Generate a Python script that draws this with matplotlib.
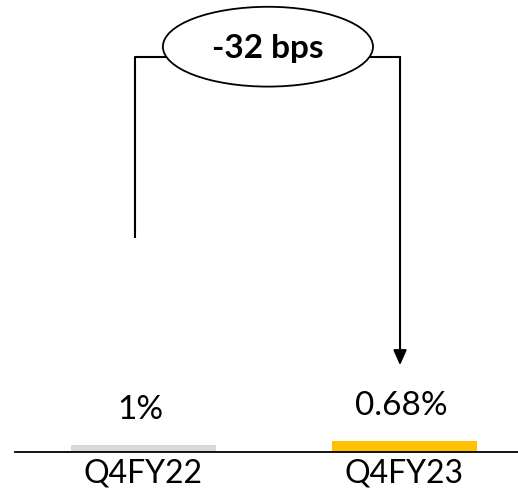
import matplotlib.pyplot as plt
from matplotlib.patches import Ellipse

# categories and values
quarters = ["Q4FY22", "Q4FY23"]
value_labels = ["1%", "0.68%"]
bar_heights = [1.0, 1.55]          # visual bar heights as drawn in the source
bar_colors = ["#d9d9d9", "#ffc000"]
change_label = "-32 bps"

plt.rcParams['font.family'] = ['Lato', 'DejaVu Sans']

fig = plt.figure(figsize=(5.18, 4.90), dpi=100)
# axes: x from 15px to 518px, y from baseline (452px) to the top
ax = fig.add_axes([15 / 518, (490 - 452) / 490, 503 / 518, 452 / 490])

x = list(range(len(quarters)))
ax.bar(x, bar_heights, width=0.556, color=bar_colors)

for xi, h, lab in zip(x, bar_heights, value_labels):
    ax.annotate(lab, (xi, h), xytext=(-2, 19), textcoords='offset points',
                ha='center', va='baseline', fontsize=24)

ax.set_xlim(-0.492, 1.435)
ax.set_ylim(0, 452 / 7)

# bracket with arrow from the first bar to the second
ax.plot([-0.033, -0.033, 0.983], [30.7, 56.4, 56.4], color='black', lw=1.5)
ax.annotate("", xy=(0.983, 12.4), xytext=(0.983, 56.4),
            arrowprops=dict(arrowstyle='-|>,head_length=0.9,head_width=0.4',
                            color='black', lw=1.5, shrinkA=0, shrinkB=0))
ax.add_patch(Ellipse((0.477, 57.9), 0.805, 11.4, facecolor='white',
                     edgecolor='black', lw=1.3, zorder=3))
ax.text(0.477, 57.6, change_label, ha='center', va='center',
        fontsize=24, fontweight='bold', zorder=4)

ax.set_xticks(x)
ax.set_xticklabels(quarters, fontsize=23)
ax.tick_params(axis='x', length=0, pad=5)
ax.set_yticks([])
for side in ['left', 'right', 'top']:
    ax.spines[side].set_visible(False)
ax.spines['bottom'].set_linewidth(1.3)

plt.savefig("out.png", dpi=100)
